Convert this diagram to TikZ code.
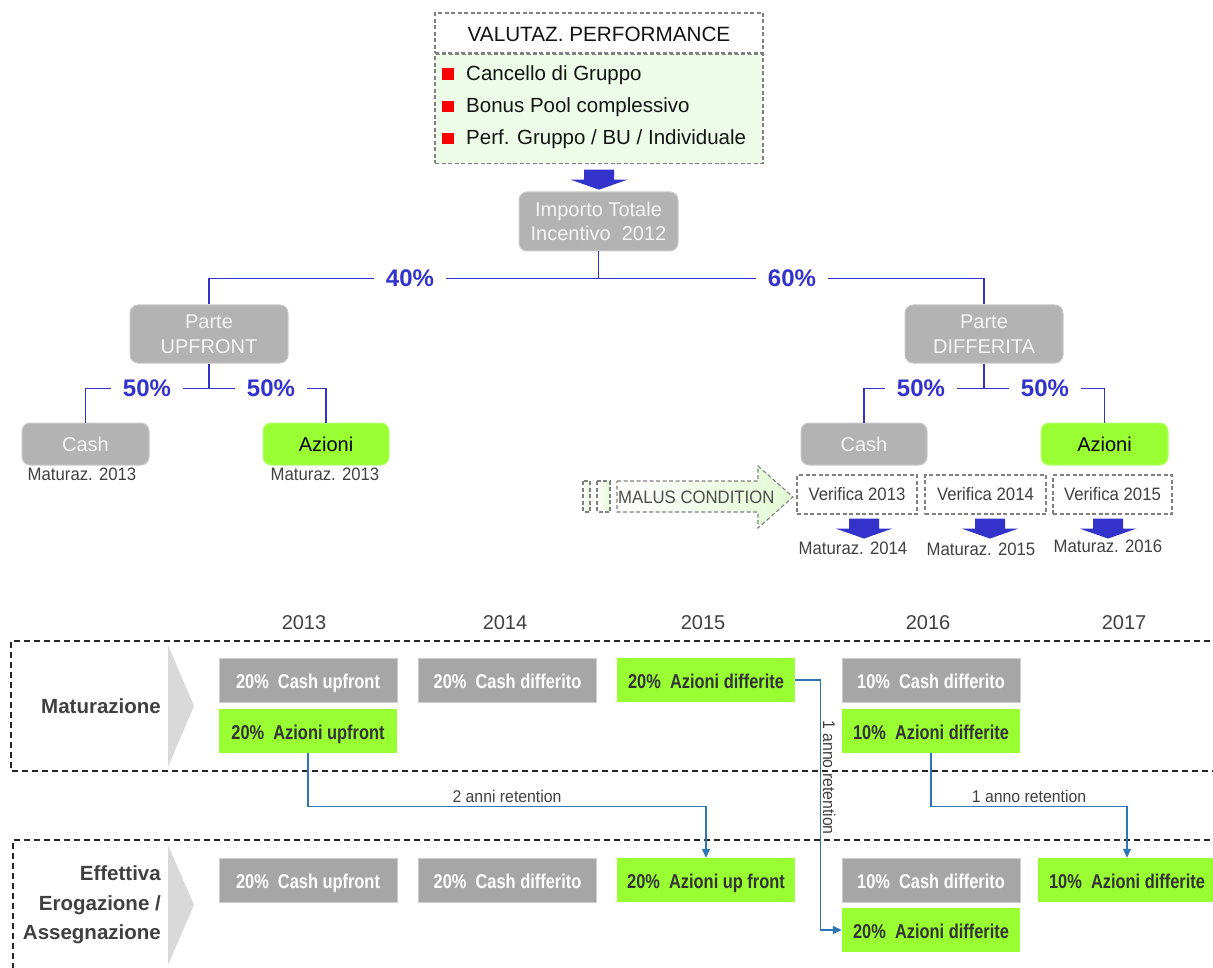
\documentclass[tikz,border=0pt]{standalone}
\usepackage{fontspec}
\setmainfont{Liberation Sans}
\newfontfamily\narrowf[FakeStretch=0.93]{Liberation Sans}
\newfontfamily\condf[FakeStretch=0.82]{Liberation Sans}
\usetikzlibrary{arrows.meta,calc}
\definecolor{pblue}{HTML}{3333CC}
\definecolor{topgray}{HTML}{B3B3B3}
\definecolor{botgray}{HTML}{A6A6A6}
\definecolor{lgreen}{HTML}{99FF33}
\definecolor{mint}{HTML}{ECFCE8}
\definecolor{mintb}{HTML}{E2F9D4}
\definecolor{chev}{HTML}{D9D9D9}
\definecolor{connc}{HTML}{2E75B6}
\definecolor{txt}{HTML}{404040}
\definecolor{dtxt}{HTML}{333333}
\definecolor{dgray}{HTML}{808080}
\definecolor{boxtxt}{HTML}{F4F4F4}
\newcommand\fsz[2]{\fontsize{#1}{#2}\selectfont}
\tikzset{pics/barrow/.style={code={\fill[pblue] (-15,0) -- (15,0) -- (15,10) -- (28.5,10) -- (0,20) -- (-28.5,10) -- (-15,10) -- cycle;}}}
\begin{document}
\begin{tikzpicture}[x=1pt,y=-1pt,
  topdash/.style={draw=dgray, dash pattern=on 4pt off 2.5pt, line width=1.1pt},
  gbox/.style={rounded corners=8pt, fill=topgray, draw=topgray!70!white, line width=1pt, text=boxtxt, font=\fsz{20}{24.5}, align=center, inner sep=0pt},
  grnbox/.style={rounded corners=8pt, fill=lgreen, draw=lgreen!70!white, line width=1pt, text=black, font=\fsz{20}{24}, inner sep=0pt},
  pct/.style={font=\bfseries\fsz{24}{28}, text=pblue, fill=white, inner xsep=12pt, inner ysep=1pt},
  tline/.style={draw=pblue, line width=1.5pt},
  matlab/.style={font=\narrowf\fsz{18}{21}, text=txt, inner sep=0pt},
  bullet/.style={fill=red, minimum size=11.5pt, inner sep=0pt},
  btext/.style={font=\fsz{20.5}{24}, text=black!92, inner sep=0pt, anchor=base west},
  yearlab/.style={font=\fsz{20}{24}, text=txt, inner sep=0pt},
  rowlab/.style={font=\bfseries\fsz{20.5}{29.5}, text=txt, align=right, inner sep=0pt, anchor=east},
  bdash/.style={draw=black!85, dash pattern=on 6pt off 4pt, line width=1.3pt},
  cbox/.style={fill=botgray, draw=botgray!55!white, line width=0.8pt, text=white, font=\condf\bfseries\fsz{20}{24}, minimum width=178pt, minimum height=44pt, inner sep=0pt, text height=18pt, text depth=2pt},
  abox/.style={fill=lgreen, text=dtxt, font=\condf\bfseries\fsz{20}{24}, minimum width=178pt, minimum height=44pt, inner sep=0pt, text height=18pt, text depth=2pt},
  conn/.style={draw=connc, line width=1.4pt, -{Triangle[length=9pt,width=8pt]}},
  rlab/.style={font=\narrowf\fsz{17}{20}, text=txt, inner sep=3pt}
]
\path[use as bounding box] (0,0) rectangle (1213,968);
\clip (0,0) rectangle (1213,968);

% ---------- top box ----------
\node[topdash, fill=white, minimum width=328pt, minimum height=40pt, inner sep=0pt, font=\fsz{20.7}{24}, text=black!92, text height=18pt, text depth=0pt] (hdr) at (599,33) {VALUTAZ. PERFORMANCE};
\node[topdash, fill=mint, minimum width=328pt, minimum height=109pt, inner sep=0pt, anchor=north] (perf) at (hdr.south) {};
\node[bullet] (b1) at (448,74) {};
\node[bullet] (b2) at (448,106.5) {};
\node[bullet] (b3) at (448,138.5) {};
\node[btext] (t1) at (466,81) {Cancello di Gruppo};
\node[btext] (t2) at (466,113) {Bonus Pool complessivo};
\node[btext] (t3) at (466,145) {Perf. Gruppo / BU / Individuale};

\node[gbox, minimum width=159pt, minimum height=59pt] (imp) at (598.5,221.5) {Importo Totale\\Incentivo\ \ 2012};
\pic at ($(perf.south)+(0,6)$) {barrow};

% ---------- tree ----------
\node[gbox, minimum width=158pt, minimum height=58pt] (upf) at (209,334) {Parte\\UPFRONT};
\node[gbox, minimum width=158pt, minimum height=58pt] (dif) at (984,334) {Parte\\DIFFERITA};
\node[gbox, minimum width=127pt, minimum height=42pt] (cashL) at (85.5,444) {Cash};
\node[grnbox, minimum width=126pt, minimum height=42pt] (azL) at (326,444) {Azioni};
\node[gbox, minimum width=126pt, minimum height=42pt] (cashR) at (864,444) {Cash};
\node[grnbox, minimum width=127pt, minimum height=42pt] (azR) at (1104.5,444) {Azioni};

\draw[tline] (imp.south) -- ++(0,27) coordinate (split) -| (upf.north);
\draw[tline] (split) -| (dif.north);
\draw[tline] (upf.south) -- ++(0,25) coordinate (sl) -| (cashL.north);
\draw[tline] (sl) -| (azL.north);
\draw[tline] (dif.south) -- ++(0,25) coordinate (sr) -| (cashR.north);
\draw[tline] (sr) -| (azR.north);

\node[pct] (p40) at (410,278) {40\%};
\node[pct] (p60) at (792,278) {60\%};
\node[pct] (p50a) at (147,388) {50\%};
\node[pct] (p50b) at (271,388) {50\%};
\node[pct] (p50c) at (921,388) {50\%};
\node[pct] (p50d) at (1045,388) {50\%};

\node[matlab] (ml1) at (82,474) {Maturaz. 2013};
\node[matlab] (ml2) at (325,474) {Maturaz. 2013};

% ---------- malus ----------
\draw[topdash, left color=white, right color=mintb] (583,481) rectangle (590,512);
\draw[topdash, left color=white, right color=mintb] (597,481) rectangle (610,512);
\draw[topdash, left color=white, right color=mintb] (617,481) -- (758,481) -- (758,466) -- (793,497) -- (758,528) -- (758,512) -- (617,512) -- cycle;
\node[matlab, anchor=west, text=black!70] (malus) at (618,497) {MALUS CONDITION};

\node[topdash, fill=white, minimum width=120pt, minimum height=39pt, matlab] (v13) at (857,494.5) {Verifica 2013};
\node[topdash, fill=white, minimum width=121pt, minimum height=39pt, matlab] (v14) at (985.5,494.5) {Verifica 2014};
\node[topdash, fill=white, minimum width=119pt, minimum height=39pt, matlab] (v15) at (1112.5,494.5) {Verifica 2015};
\pic at ($(v13.south)+(7,4)$) {barrow};
\pic at ($(v14.south)+(4.5,4)$) {barrow};
\pic at ($(v15.south)+(-4.5,4)$) {barrow};
\node[matlab] (mt14) at (853,548) {Maturaz. 2014};
\node[matlab] (mt15) at (981,549) {Maturaz. 2015};
\node[matlab] (mt16) at (1108,546) {Maturaz. 2016};

% ---------- bottom timeline ----------
\node[yearlab] (y13) at (304,623) {2013};
\node[yearlab] (y14) at (505,623) {2014};
\node[yearlab] (y15) at (703,623) {2015};
\node[yearlab] (y16) at (928,623) {2016};
\node[yearlab] (y17) at (1124,623) {2017};

\draw[bdash] (1220,641) -- (11,641) -- (11,771) -- (1220,771);
\draw[bdash] (1220,840) -- (13,840) -- (13,980);
\fill[chev] (168,645) -- (194,706) -- (168,767) -- cycle;
\fill[chev] (168,845) -- (194,905) -- (168,965) -- cycle;

\node[rowlab] (lmat) at (161,706) {Maturazione};
\node[rowlab] (leff) at (161,905) {Effettiva\\Erogazione /\\Assegnazione};

\node[cbox] (m13c) at (308,680) {20\%\ \ Cash upfront};
\node[cbox] (m14c) at (507.5,680) {20\%\ \ Cash differito};
\node[abox] (m15a) at (706,680) {20\%\ \ Azioni differite};
\node[cbox] (m16c) at (931,680) {10\%\ \ Cash differito};
\node[abox] (m13a) at (308,731) {20\%\ \ Azioni upfront};
\node[abox] (m16a) at (931,731) {10\%\ \ Azioni differite};

\node[cbox] (e13c) at (308,880) {20\%\ \ Cash upfront};
\node[cbox] (e14c) at (507.5,880) {20\%\ \ Cash differito};
\node[abox] (e15a) at (706,880) {20\%\ \ Azioni up front};
\node[cbox] (e16c) at (931,880) {10\%\ \ Cash differito};
\node[abox] (e17a) at (1127,880) {10\%\ \ Azioni differite};
\node[abox] (e16a) at (931,930) {20\%\ \ Azioni differite};

\draw[conn] (m13a.south) -- ++(0,53) -| node[pos=0.25, above=0pt, rlab] (r2) {2 anni retention} (e15a.north);
\draw[conn] (m15a.east) -- ++(25,0) |- node[pos=0.195, rlab, rotate=-90, anchor=south, inner sep=2pt] (r1v) {1 anno retention} (e16a.west);
\draw[conn] (m16a.south) -- ++(0,53) -| node[pos=0.25, above=0pt, rlab] (r1h) {1 anno retention} (e17a.north);
\end{tikzpicture}
\end{document}
